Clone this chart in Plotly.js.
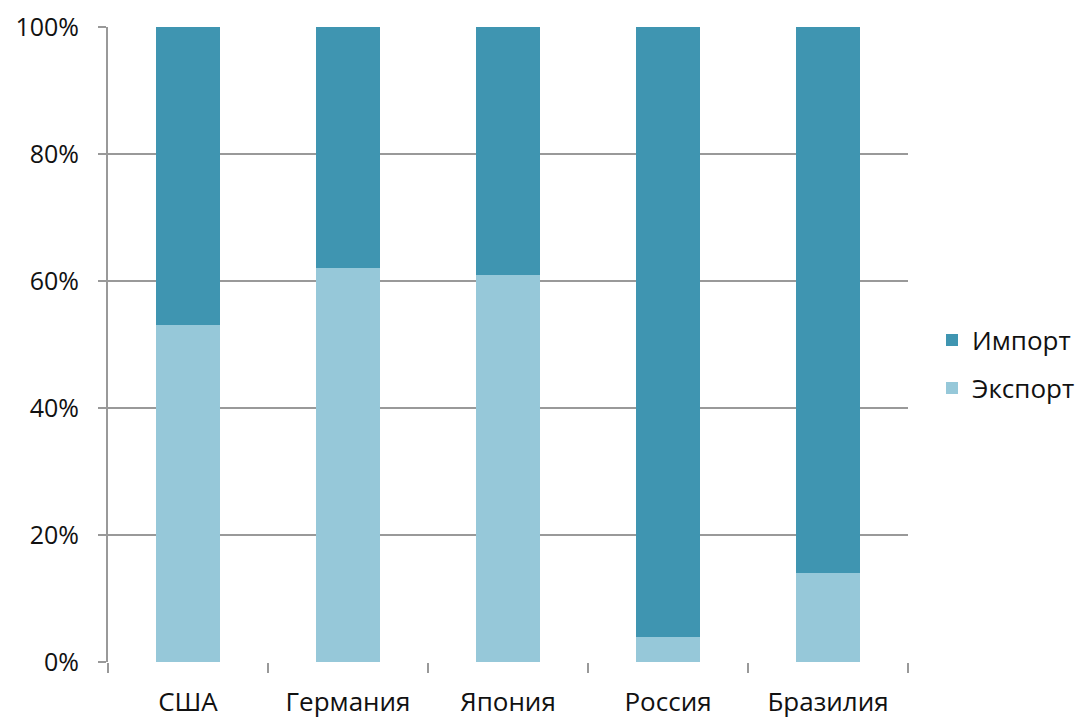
<!DOCTYPE html>
<html><head><meta charset="utf-8">
<script src="https://cdn.plot.ly/plotly-3.0.1.min.js"></script>
<style>html,body{margin:0;padding:0;background:#fff}#chart{width:1082px;height:718px}</style>
</head><body><div id="chart"></div>
<script>
const categories = ["США", "Германия", "Япония", "Россия", "Бразилия"];
const exportShare = [53, 62, 61, 4, 14];
const importShare = [47, 38, 39, 96, 86];
const yTickVals = [0, 20, 40, 60, 80, 100];
const yTickText = ["0%", "20%", "40%", "60%", "80%", "100%"];

const traces = [
  {type: "bar", name: "Экспорт", legendgroup: "e", legendrank: 2, x: categories, y: exportShare, marker: {color: "#96C8D9", line: {width: 0}}},
  {type: "bar", name: "Импорт", legendgroup: "i", legendrank: 1, x: categories, y: importShare, marker: {color: "#3F95B1", line: {width: 0}}}
];
const layout = {
  width: 1082, height: 718,
  barmode: "stack", bargap: 0.605,
  margin: {l: 108, r: 174, t: 27, b: 56, autoexpand: false},
  paper_bgcolor: "#fff", plot_bgcolor: "#fff",
  font: {family: "Open Sans, Noto Sans, sans-serif", size: 26, color: "#111"},
  xaxis: {type: "category", tickson: "boundaries", ticks: "outside", ticklen: 10, tickcolor: "#999",
          tickwidth: 2, showgrid: false, showline: false, zeroline: false, ticklabelstandoff: 22,
          tickfont: {size: 26}},
  yaxis: {range: [0, 100], tickvals: yTickVals, ticktext: yTickText, ticks: "outside", ticklen: 8,
          tickcolor: "#999", tickwidth: 2, showgrid: true, gridcolor: "#999", gridwidth: 2,
          showline: true, linecolor: "#999", linewidth: 2, zeroline: false, ticklabelstandoff: 14,
          tickfont: {size: 25}},
  legend: {x: 1.03, xanchor: "left", y: 0.469, yanchor: "middle", traceorder: "grouped",
           tracegroupgap: 11, font: {size: 26}, itemwidth: 30},
  showlegend: true
};
Plotly.newPlot("chart", traces, layout, {displayModeBar: false, staticPlot: true});
</script></body></html>
